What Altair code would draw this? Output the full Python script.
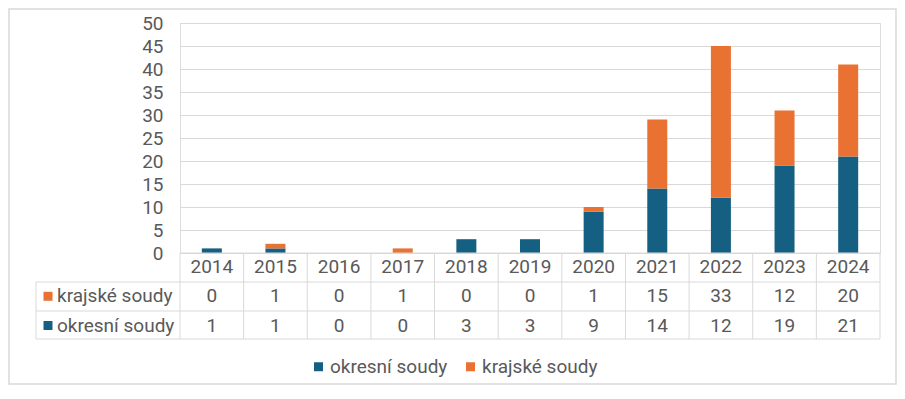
import altair as alt
import pandas as pd

# ---- data ----
years = ["2014", "2015", "2016", "2017", "2018", "2019", "2020", "2021", "2022", "2023", "2024"]
krajske = [0, 1, 0, 1, 0, 0, 1, 15, 33, 12, 20]
okresni = [1, 1, 0, 0, 3, 3, 9, 14, 12, 19, 21]
series_names = ["okresní soudy", "krajské soudy"]
series_colors = ["#156082", "#E97132"]
y_ticks = [0, 5, 10, 15, 20, 25, 30, 35, 40, 45, 50]

rows = []
for i, yr in enumerate(years):
    rows.append({"year": yr, "series": series_names[0], "value": okresni[i], "order": 0})
    rows.append({"year": yr, "series": series_names[1], "value": krajske[i], "order": 1})
df = pd.DataFrame(rows)
years_df = pd.DataFrame({"year": years})
one = pd.DataFrame({"k": [0]})

FONT = "Roboto"
TXT = "#595959"
GRID = "#D9D9D9"
FS = 19
W, H = 700, 230

xscale = alt.Scale(domain=years, paddingInner=0, paddingOuter=0)
x_enc = alt.X("year:N", sort=years, scale=xscale, axis=None)

bars = alt.Chart(df).mark_bar(size=20).encode(
    x=x_enc,
    y=alt.Y(
        "value:Q",
        stack="zero",
        scale=alt.Scale(domain=[0, 50], nice=False),
        axis=alt.Axis(values=y_ticks, title=None, domain=False, ticks=False,
                      labelPadding=17, labelFontSize=FS, labelColor=TXT, labelFont=FONT,
                      gridColor=GRID, gridWidth=1),
    ),
    color=alt.Color(
        "series:N",
        scale=alt.Scale(domain=series_names, range=series_colors),
        legend=alt.Legend(orient="none", legendX=129, legendY=334, direction="horizontal",
                          title=None, symbolType="square", symbolSize=81, symbolStrokeWidth=0,
                          labelFontSize=FS, labelColor=TXT, labelFont=FONT, labelOffset=2,
                          columnPadding=13, padding=0),
    ),
    order=alt.Order("order:Q"),
)

# outer border
border = alt.Chart(one).mark_rect(fillOpacity=0, stroke=GRID, strokeWidth=1.5).encode(
    x=alt.value(-171), x2=alt.value(716), y=alt.value(-14), y2=alt.value(361)
)

# table grid lines
vlines = alt.Chart(years_df).mark_rule(color=GRID, strokeWidth=1).encode(
    x=alt.X("year:N", sort=years, scale=xscale, axis=None, bandPosition=0),
    y=alt.value(230), y2=alt.value(316),
)
vright = alt.Chart(one).mark_rule(color=GRID, strokeWidth=1).encode(
    x=alt.value(W), y=alt.value(230), y2=alt.value(316)
)
vleft = alt.Chart(one).mark_rule(color=GRID, strokeWidth=1).encode(
    x=alt.value(-144), y=alt.value(259), y2=alt.value(316)
)
htop = alt.Chart(one).mark_rule(color=GRID, strokeWidth=1).encode(
    x=alt.value(0), x2=alt.value(W), y=alt.value(230)
)
hlines = [
    alt.Chart(one).mark_rule(color=GRID, strokeWidth=1).encode(
        x=alt.value(-144), x2=alt.value(W), y=alt.value(yy)
    )
    for yy in (259, 288, 316)
]

# table texts
header = alt.Chart(years_df).mark_text(font=FONT, fontSize=FS, color=TXT, baseline="middle").encode(
    x=x_enc, y=alt.value(244), text="year:N"
)
row_k = alt.Chart(df).transform_filter(alt.datum.series == series_names[1]).mark_text(
    font=FONT, fontSize=FS, color=TXT, baseline="middle").encode(
    x=x_enc, y=alt.value(273), text="value:Q"
)
row_o = alt.Chart(df).transform_filter(alt.datum.series == series_names[0]).mark_text(
    font=FONT, fontSize=FS, color=TXT, baseline="middle").encode(
    x=x_enc, y=alt.value(302.5), text="value:Q"
)

lab_k = alt.Chart(one).mark_text(font=FONT, fontSize=FS, color=TXT, baseline="middle", align="left").encode(
    x=alt.value(-123), y=alt.value(273), text=alt.value(series_names[1])
)
lab_o = alt.Chart(one).mark_text(font=FONT, fontSize=FS, color=TXT, baseline="middle", align="left").encode(
    x=alt.value(-123), y=alt.value(302.5), text=alt.value(series_names[0])
)
sq_k = alt.Chart(one).mark_square(size=81, opacity=1, color=series_colors[1]).encode(
    x=alt.value(-132), y=alt.value(273.3)
)
sq_o = alt.Chart(one).mark_square(size=81, opacity=1, color=series_colors[0]).encode(
    x=alt.value(-132), y=alt.value(302.5)
)

chart = alt.layer(
    bars, border, vlines, vright, vleft, htop, *hlines,
    header, row_k, row_o, lab_k, lab_o, sq_k, sq_o,
).properties(
    width=W, height=H,
    padding={"left": 172, "top": 15, "right": 17, "bottom": 132},
    autosize=alt.AutoSizeParams(type="none"),
).configure_view(stroke=None).configure(font=FONT)

chart.save("out.html", embed_options={"renderer": "svg", "actions": False})
